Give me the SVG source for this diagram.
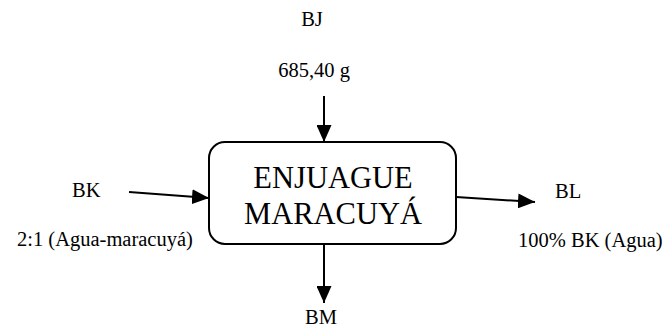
<svg xmlns="http://www.w3.org/2000/svg" width="669" height="329" viewBox="0 0 669 329">
  <defs>
    <marker id="arrow" markerUnits="userSpaceOnUse" markerWidth="17" markerHeight="15" refX="17" refY="7.5" orient="auto">
      <path d="M0,0 L17,7.5 L0,15 Z" fill="#000"/>
    </marker>
    <style>
      text { font-family: "Liberation Serif", "Times New Roman", serif; fill: #000; }
      .lbl { font-size: 20.5px; }
      .big { font-size: 30.5px; text-anchor: middle; }
      .flow { stroke: #000; stroke-width: 2; fill: none; marker-end: url(#arrow); }
    </style>
  </defs>
  <rect width="669" height="329" fill="#fff"/>

  <g id="connectors">
    <line class="flow" x1="324" y1="96" x2="324" y2="142"/>
    <line class="flow" x1="129" y1="192" x2="209" y2="198"/>
    <line class="flow" x1="456" y1="197" x2="535" y2="202"/>
    <line class="flow" x1="324" y1="244" x2="324" y2="303"/>
  </g>

  <g id="process">
    <rect x="209" y="142" width="247" height="102" rx="16" ry="16" fill="#fff" stroke="#000" stroke-width="2"/>
    <text class="big" x="333" y="188">ENJUAGUE</text>
    <text class="big" x="333" y="224">MARACUYÁ</text>
  </g>

  <g id="input-top">
    <text class="lbl" x="312" y="26" text-anchor="middle">BJ</text>
    <text class="lbl" x="314" y="77" text-anchor="middle">685,40 g</text>
  </g>

  <g id="input-left">
    <text class="lbl" x="72" y="197">BK</text>
    <text class="lbl" x="17" y="246">2:1 (Agua-maracuyá)</text>
  </g>

  <g id="output-right">
    <text class="lbl" x="555" y="198">BL</text>
    <text class="lbl" x="518" y="247">100% BK (Agua)</text>
  </g>

  <g id="output-bottom">
    <text class="lbl" x="321" y="324" text-anchor="middle">BM</text>
  </g>
</svg>
